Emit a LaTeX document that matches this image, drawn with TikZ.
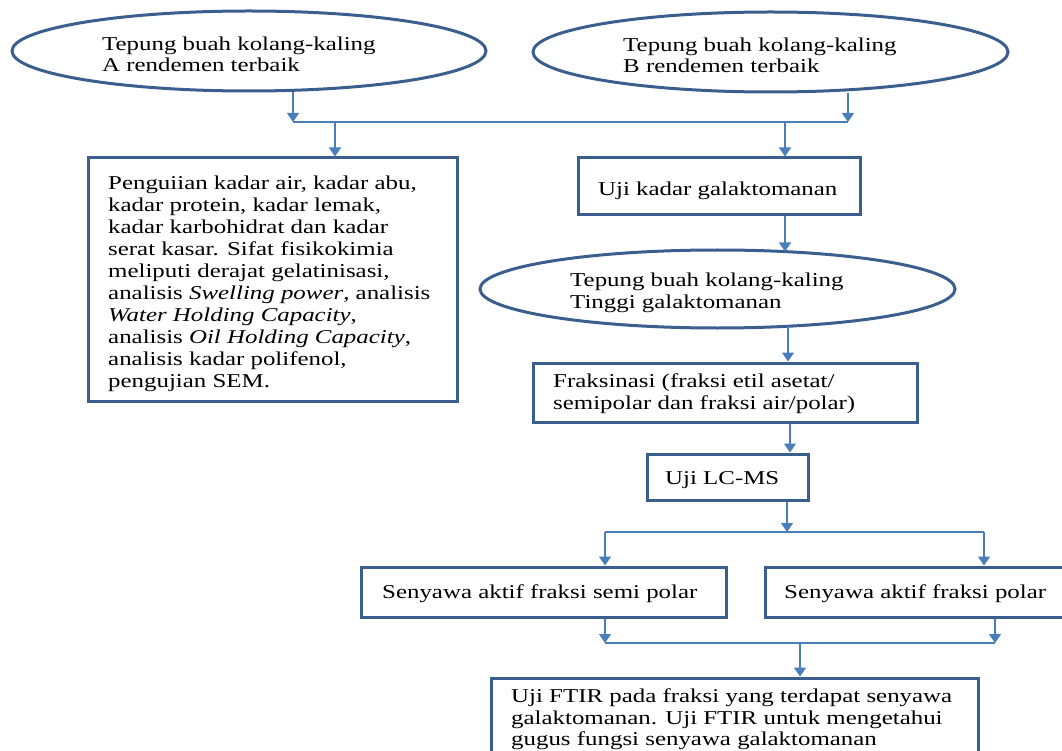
\documentclass[tikz,border=0pt]{standalone}
\usepackage{fontspec}
\setmainfont{Liberation Serif}[FakeStretch=1.27]
\usetikzlibrary{arrows.meta,shapes.geometric}
\definecolor{boxblue}{HTML}{3A5F8E}
\definecolor{lineblue}{HTML}{4A7EBB}
\begin{document}
\begin{tikzpicture}[x=1pt,y=-1pt,
 box/.style={draw=boxblue,line width=3pt,rectangle,inner sep=0pt},
 oval/.style={draw=boxblue,line width=3pt,ellipse,inner sep=0pt},
 txt/.style={inner sep=0pt,align=left,anchor=west,font=\fontsize{19.6}{21.4}\selectfont},
 txtL/.style={txt,font=\fontsize{19.6}{22}\selectfont},
 conn/.style={draw=lineblue,line width=1.5pt},
 arr/.style={conn,-{Triangle[width=12pt,length=9pt]}}]
\useasboundingbox (0,0) rectangle (1062,751);
\clip (0,0) rectangle (1062,751);

% shapes
\node[oval,minimum width=474pt,minimum height=80pt] (elA) at (249,51) {};
\node[oval,minimum width=475pt,minimum height=80pt] (elB) at (770.5,52) {};
\node[box,minimum width=369pt,minimum height=243pt] (boxL) at (272.5,279.5) {};
\node[box,minimum width=282pt,minimum height=57pt] (boxK) at (719,186.5) {};
\node[oval,minimum width=475pt,minimum height=78pt] (elC) at (717.5,289) {};
\node[box,minimum width=384pt,minimum height=59pt] (boxF) at (725,392.5) {};
\node[box,minimum width=161pt,minimum height=46pt] (boxM) at (727.5,477) {};
\node[box,minimum width=365pt,minimum height=50pt] (boxS) at (543.5,592) {};
\node[box,minimum width=310pt,minimum height=50pt] (boxP) at (920,592) {};
\node[box,minimum width=487pt,minimum height=92pt] (boxT) at (734.5,724) {};

% texts
\node[txt] (tA) at (102,56.7) {\strut Tepung buah kolang-kaling\\A rendemen terbaik\strut};
\node[txt] (tB) at (623,57.7) {\strut Tepung buah kolang-kaling\\B rendemen terbaik\strut};
\node[txtL] (tL) at (108,283.6) {\strut Penguiian kadar air, kadar abu,\\
kadar protein, kadar lemak,\\
kadar karbohidrat dan kadar\\
serat kasar. Sifat fisikokimia\\
meliputi derajat gelatinisasi,\\
analisis \textit{Swelling power}, analisis\\
\textit{Water Holding Capacity},\\
analisis \textit{Oil Holding Capacity},\\
analisis kadar polifenol,\\
pengujian SEM.\strut};
\node[txt] (tK) at (598,191.7) {\strut Uji kadar galaktomanan\strut};
\node[txt] (tC) at (570,293.2) {\strut Tepung buah kolang-kaling\\Tinggi galaktomanan\strut};
\node[txt] (tF) at (553,394.4) {\strut Fraksinasi (fraksi etil asetat/\\semipolar dan fraksi air/polar)\strut};
\node[txt] (tM) at (665,480.7) {\strut Uji LC-MS\strut};
\node[txt] (tS) at (382,594.7) {\strut Senyawa aktif fraksi semi polar\strut};
\node[txt] (tP) at (784,594.7) {\strut Senyawa aktif fraksi polar\strut};
\node[txt] (tT) at (511,720.1) {\strut Uji FTIR pada fraksi yang terdapat senyawa\\galaktomanan. Uji FTIR untuk mengetahui\\gugus fungsi senyawa galaktomanan\strut};

% junction coordinates
\coordinate (jA) at (293,122);
\coordinate (jB) at (848,122);
\coordinate (jL) at (335,122);
\coordinate (jK) at (785,122);
\coordinate (cTop) at (785,251.5);
\coordinate (cBot) at (788,326);
\coordinate (xF) at (790,0);
\coordinate (jM) at (787,532);
\coordinate (jS) at (605,532);
\coordinate (jP) at (984,532);
\coordinate (kS) at (605,643);
\coordinate (kP) at (995,643);
\coordinate (kT) at (800,643);

% connectors
\draw[arr] (elA.south -| jA) -- (jA);
\draw[arr] (elB.south -| jB) -- (jB);
\draw[conn] (jA) -- (jB);
\draw[arr] (jL) -- (jL |- boxL.north);
\draw[arr] (jK) -- (jK |- boxK.north);
\draw[arr] (cTop |- boxK.south) -- (cTop);
\draw[arr] (cBot) -- (cBot |- boxF.north);
\draw[arr] (xF |- boxF.south) -- (xF |- boxM.north);
\draw[arr] (jM |- boxM.south) -- (jM);
\draw[conn] (jS) -- (jP);
\draw[arr] (jS) -- (jS |- boxS.north);
\draw[arr] (jP) -- (jP |- boxP.north);
\draw[arr] (kS |- boxS.south) -- (kS);
\draw[arr] (kP |- boxP.south) -- (kP);
\draw[conn] (kS) -- (kP);
\draw[arr] (kT) -- (kT |- boxT.north);
\end{tikzpicture}
\end{document}
